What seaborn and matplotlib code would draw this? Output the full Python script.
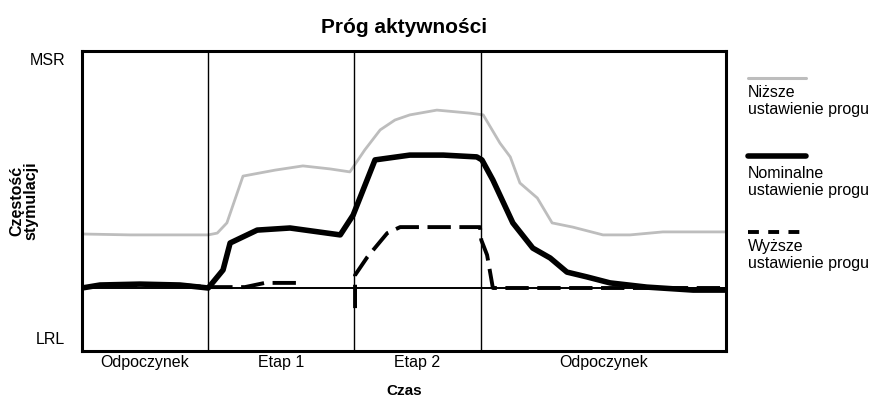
import matplotlib
matplotlib.use("Agg")
import pandas as pd
import seaborn as sns
import matplotlib.pyplot as plt

## Activity threshold chart: pacing rate over time for three threshold settings

# time axis 0-100 (whole exercise test), rate axis 0 (bottom) - 100 (top)
phase_names = ["Odpoczynek", "Etap 1", "Etap 2", "Odpoczynek"]
phase_edges = [0, 19.6, 42.2, 62.0, 100]
rest_rate = 21.0
rate_ticks = [4.5, 97.5]
rate_tick_labels = ["LRL", "MSR"]

# lower threshold setting (grey)
time_lower = [0, 7.5, 13.7, 19.6, 21.0, 22.5, 25.0, 30.0, 34.3, 38.5, 41.6,
              43.9, 46.3, 48.6, 50.9, 55.1, 60.2, 62.3, 64.9, 66.5, 68.0,
              70.7, 73.0, 76.2, 80.9, 85.1, 90.2, 100]
rate_lower = [39.0, 38.7, 38.7, 38.7, 39.3, 42.7, 58.3, 60.3, 61.7, 60.7, 59.7,
              67.0, 73.7, 77.0, 78.7, 80.3, 79.3, 78.7, 69.3, 64.7, 56.0,
              51.0, 42.7, 41.3, 38.7, 38.7, 39.7, 39.7]

# nominal threshold setting (thick black)
time_nominal = [0, 2.8, 9.0, 15.2, 19.6, 21.9, 23.0, 27.2, 32.3, 40.1, 42.1,
                45.5, 50.9, 56.1, 61.3, 62.1, 63.8, 66.9, 70.0, 72.7, 75.3,
                78.4, 82.0, 87.7, 94.9, 100]
rate_nominal = [21.0, 22.0, 22.3, 22.0, 21.0, 27.0, 36.0, 40.3, 41.0, 38.7, 45.3,
                63.7, 65.3, 65.3, 64.7, 63.7, 57.0, 42.7, 34.3, 31.0, 26.3,
                24.7, 22.7, 21.3, 20.3, 20.3]

# higher threshold setting (dashed), drawn in two pieces
time_higher = [0, 2.8, 15.2, 19.6, 25.3, 28.4, 33.9,
               42.4, 42.4, 44.3, 47.4, 49.4, 61.8, 62.0, 62.9, 63.8, 100]
rate_higher = [21.0, 22.0, 22.0, 21.3, 21.3, 22.7, 22.7,
               14.3, 25.3, 31.3, 39.3, 41.3, 41.3, 37.0, 32.0, 21.0, 21.0]
piece_higher = [1] * 7 + [2] * 10

df_high = pd.DataFrame({"t": time_higher, "r": rate_higher, "piece": piece_higher})

sns.set_style("white")
plt.rcParams["font.family"] = ["Liberation Sans", "DejaVu Sans"]
plt.rcParams.update({"text.color": "black", "axes.labelcolor": "black",
                     "xtick.color": "black", "ytick.color": "black"})

fig = plt.figure(figsize=(8.7, 4.05), dpi=100)
ax = fig.add_axes([82 / 870, 54 / 405, 644 / 870, 300 / 405])

sns.lineplot(x=time_lower, y=rate_lower, ax=ax, color="#bdbdbd", lw=2,
             sort=False, estimator=None)
sns.lineplot(data=df_high, x="t", y="r", units="piece", estimator=None, sort=False,
             ax=ax, color="black", lw=2.8, linestyle=(0, (6, 2.2)))
sns.lineplot(x=time_nominal, y=rate_nominal, ax=ax, color="black", lw=4,
             sort=False, estimator=None)

for edge in phase_edges[1:-1]:
    ax.axvline(edge, color="black", lw=1)
ax.axhline(rest_rate, color="black", lw=1.4)

ax.set_xlim(0, 100)
ax.set_ylim(0, 100)
centers = [(a + b) / 2 for a, b in zip(phase_edges[:-1], phase_edges[1:])]
ax.set_xticks(centers, phase_names)
ax.set_yticks(rate_ticks, rate_tick_labels)
ax.tick_params(axis="x", length=0, labelsize=11.5, pad=3)
ax.tick_params(axis="y", length=0, labelsize=11.5, pad=12)
for sp in ax.spines.values():
    sp.set_visible(True)
    sp.set_color("black")
    sp.set_linewidth(2.2)

ax.set_title("Próg aktywności", fontsize=15, fontweight="bold", pad=13)
ax.set_xlabel("Czas", fontsize=11, fontweight="bold")
ax.xaxis.set_label_coords(0.5, -0.11)
ax.set_ylabel("Częstość\nstymulacji", fontsize=11.5, fontweight="bold",
              linespacing=0.9)
ax.yaxis.set_label_coords(-0.068, 0.5)

# legend drawn by hand: sample line on top, two-line text underneath
leg = fig.add_axes([740 / 870, 0, 130 / 870, 1])
leg.set_xlim(740, 870)
leg.set_ylim(405, 0)
leg.axis("off")
leg.plot([748, 806], [78, 78], color="#bdbdbd", lw=2.2)
leg.plot([748, 806], [156, 156], color="black", lw=4)
leg.plot([748, 806], [232, 232], color="black", lw=2.8, linestyle=(0, (2.8, 2.4)))
txt = dict(ha="left", va="top", fontsize=11.5, linespacing=1.2)
leg.text(748, 85, "Niższe\nustawienie progu", **txt)
leg.text(748, 166, "Nominalne\nustawienie progu", **txt)
leg.text(748, 239, "Wyższe\nustawienie progu", **txt)

fig.savefig("out.png", dpi=100)
